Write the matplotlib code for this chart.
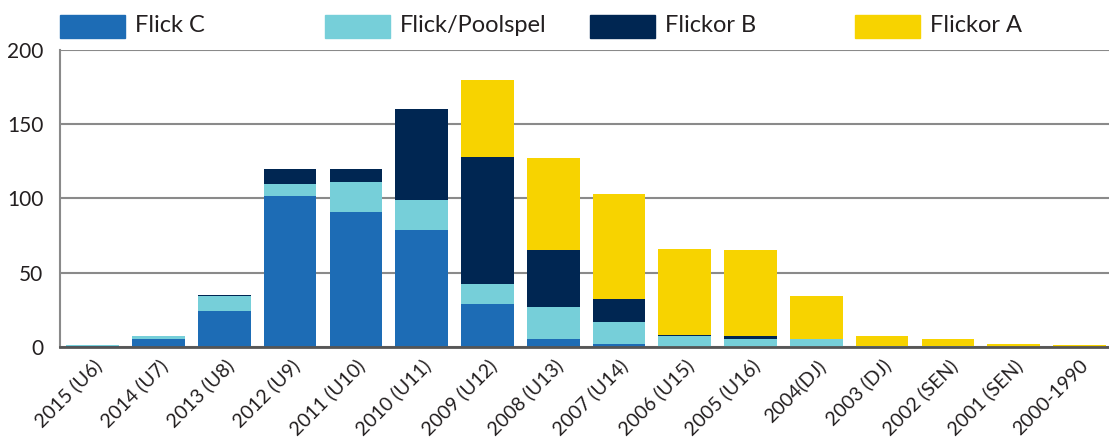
import matplotlib.pyplot as plt
from matplotlib.patches import Rectangle
import numpy as np

plt.rcParams['font.family'] = ['Lato', 'DejaVu Sans']

# data
categories = ['2015 (U6)', '2014 (U7)', '2013 (U8)', '2012 (U9)', '2011 (U10)',
              '2010 (U11)', '2009 (U12)', '2008 (U13)', '2007 (U14)', '2006 (U15)',
              '2005 (U16)', '2004(DJ)', '2003 (DJ)', '2002 (SEN)', '2001 (SEN)',
              '2000-1990']
flick_c = [0.5, 5, 24, 102, 91, 79, 29, 5, 2, 0, 0, 0, 0, 0, 0, 0]
flick_pool = [0.5, 2, 10, 8, 20, 20, 13, 22, 15, 7, 5, 5, 0.5, 0.5, 0, 0]
flickor_b = [0, 0, 1, 10, 9, 61, 86, 38, 15, 1, 2, 0.5, 0, 0, 0, 0]
flickor_a = [0, 0, 0, 0, 0, 0, 52, 62, 71, 58, 58, 29, 7, 4.5, 2, 1]

series_names = ['Flick C', 'Flick/Poolspel', 'Flickor B', 'Flickor A']
series_values = [flick_c, flick_pool, flickor_b, flickor_a]
colors = ['#1d6cb5', '#76cfd9', '#002652', '#f7d300']

fig = plt.figure(figsize=(11.09, 4.44), dpi=100)
ax = fig.add_axes([0.054, 0.219, 0.946, 0.668])

x = np.arange(len(categories))
bottom = np.zeros(len(categories))
for vals, col in zip(series_values, colors):
    vals = np.array(vals, dtype=float)
    ax.bar(x, vals, bottom=bottom, width=0.8, color=col, zorder=3)
    bottom += vals

ax.set_xlim(-0.5, 15.45)
ax.set_ylim(0, 200)
ax.set_yticks([0, 50, 100, 150, 200])
ax.yaxis.grid(True, color='#8a8a8a', linewidth=1.5, zorder=0)
ax.set_axisbelow(True)
ax.tick_params(axis='y', length=0, pad=12, labelsize=15, labelcolor='#231f20')
ax.tick_params(axis='x', length=0, pad=7, labelsize=14, labelcolor='#231f20')
ax.set_xticks(x)
ax.set_xticklabels(categories, rotation=45, ha='right', va='top',
                   rotation_mode='anchor')

for s in ['top', 'right']:
    ax.spines[s].set_visible(False)
ax.spines['left'].set_color('#8a8a8a')
ax.spines['left'].set_linewidth(1.5)
ax.spines['bottom'].set_color('#555555')
ax.spines['bottom'].set_linewidth(2)
ax.spines['bottom'].set_zorder(4)

# legend row at the top
W, H = 1109, 444
for i, (name, col) in enumerate(zip(series_names, colors)):
    x0 = 60 + i * 265
    fig.patches.append(Rectangle((x0 / W, 1 - 38 / H), 65 / W, 23 / H,
                                 transform=fig.transFigure, color=col))
    fig.text((x0 + 75) / W, 1 - 26 / H, name, fontsize=17, color='#231f20',
             va='center', ha='left')

fig.savefig('out.png', dpi=100)
